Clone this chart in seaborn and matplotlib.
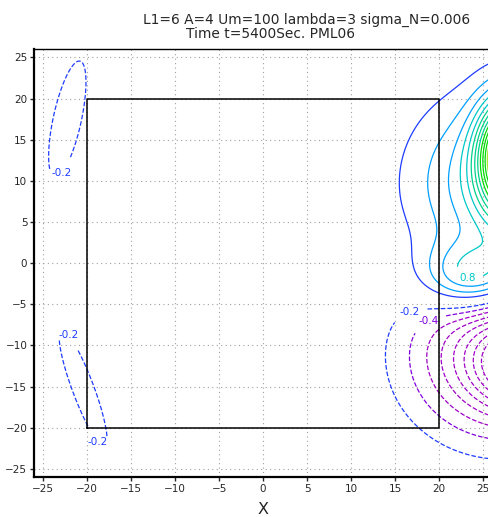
import numpy as np
import seaborn as sns
import matplotlib.pyplot as plt

# blobs that build the field (centre x, centre y, amplitude, sigma along, sigma across, angle in deg)
blob_x = [27.0, 28.0, 24.0, 27.0, 30.0, -22.25, -20.45]
blob_y = [9.5, 13.0, -1.8, -11.0, -12.5, 17.5, -15.25]
blob_amp = [0.85, 3.0, 1.0, -1.3, -1.2, -0.3, -0.3]
blob_s1 = [6.8, 2.3, 4.0, 6.8, 3.5, 8.0, 8.3]
blob_s2 = [7.5, 4.5, 3.0, 6.6, 3.5, 1.78, 1.37]
blob_ang = [0.0, 0.0, 0.0, 0.0, 0.0, 78.6, -70.8]

levels = [-1.6, -1.4, -1.2, -1.0, -0.8, -0.6, -0.4, -0.2,
          0.2, 0.4, 0.6, 0.8, 1.0, 1.2, 1.4, 1.6, 1.8, 2.0, 2.2, 2.4, 2.6, 2.8, 3.0]
colors = ['#a000c8'] * 6 + ['#8200dc', '#1e3cff',
          '#1e3cff', '#00a0ff', '#00a0ff', '#00c8c8', '#00c8c8', '#00d28c', '#00d28c',
          '#00d28c', '#00dc00', '#00dc00', '#00dc00', '#a0e632', '#a0e632', '#a0e632', '#a0e632']

# labelled contours and where the labels sit
label_levels = [-0.2, -0.2, -0.2, -0.2, -0.4, 0.8]
label_x = [-23.3, -22.0, -19.3, 16.1, 19.0, 23.0]
label_y = [11.3, -8.6, -22.2, -4.2, -7.5, -2.9]

box_x = [-20, 20, 20, -20, -20]
box_y = [-20, -20, 20, 20, -20]
ticks = [-25, -20, -15, -10, -5, 0, 5, 10, 15, 20, 25]

sns.set_style('white')

gx, gy = np.meshgrid(np.arange(-27, 36, 0.1), np.arange(-32, 32, 0.1))
field = np.zeros_like(gx)
for x0, y0, a, s1, s2, ang in zip(blob_x, blob_y, blob_amp, blob_s1, blob_s2, blob_ang):
    t = np.deg2rad(ang)
    u = (gx - x0) * np.cos(t) + (gy - y0) * np.sin(t)
    v = -(gx - x0) * np.sin(t) + (gy - y0) * np.cos(t)
    field += a * np.exp(-u**2 / (2 * s1**2) - v**2 / (2 * s2**2))

fig = plt.figure(figsize=(4.88, 5.17), dpi=100)
ax = fig.add_axes([0.0703, 0.0774, 0.9377, 0.8273])

ax.grid(True, color='#a0a0a0', linestyle=(0, (1, 3)), linewidth=0.8)
ax.set_axisbelow(True)

labelled = sorted(set(label_levels))
for lev, col in zip(levels, colors):
    ls = '--' if lev < 0 else '-'
    cs = ax.contour(gx, gy, field, levels=[lev], colors=[col], linestyles=ls, linewidths=0.9)
    if lev in labelled:
        pts = [(x, y) for l, x, y in zip(label_levels, label_x, label_y) if l == lev]
        txts = ax.clabel(cs, fmt='%.1f', fontsize=7.5, inline=True, manual=pts)
        for t in txts:
            t.set_rotation(0)

ax.plot(box_x, box_y, color='black', linewidth=1.1)

ax.set_xlim(-26, 26)
ax.set_ylim(-26, 26)
ax.set_xticks(ticks)
ax.set_yticks(ticks)
ax.tick_params(labelsize=7.5, length=3, width=1, direction='out', pad=2,
               left=True, bottom=True)
for side in ['left', 'bottom']:
    ax.spines[side].set_linewidth(1.6)
ax.spines['top'].set_linewidth(1.0)
for s in ax.spines.values():
    s.set_color('black')
ax.set_xlabel('X', fontsize=11.5, labelpad=6)

fig.text(0.629, 0.9536, 'L1=6 A=4 Um=100 lambda=3 sigma_N=0.006', ha='center',
         va='baseline', fontsize=9.9)
fig.text(0.555, 0.9265, 'Time t=5400Sec. PML06', ha='center', va='baseline', fontsize=9.9)

fig.savefig('out.png', dpi=100)
